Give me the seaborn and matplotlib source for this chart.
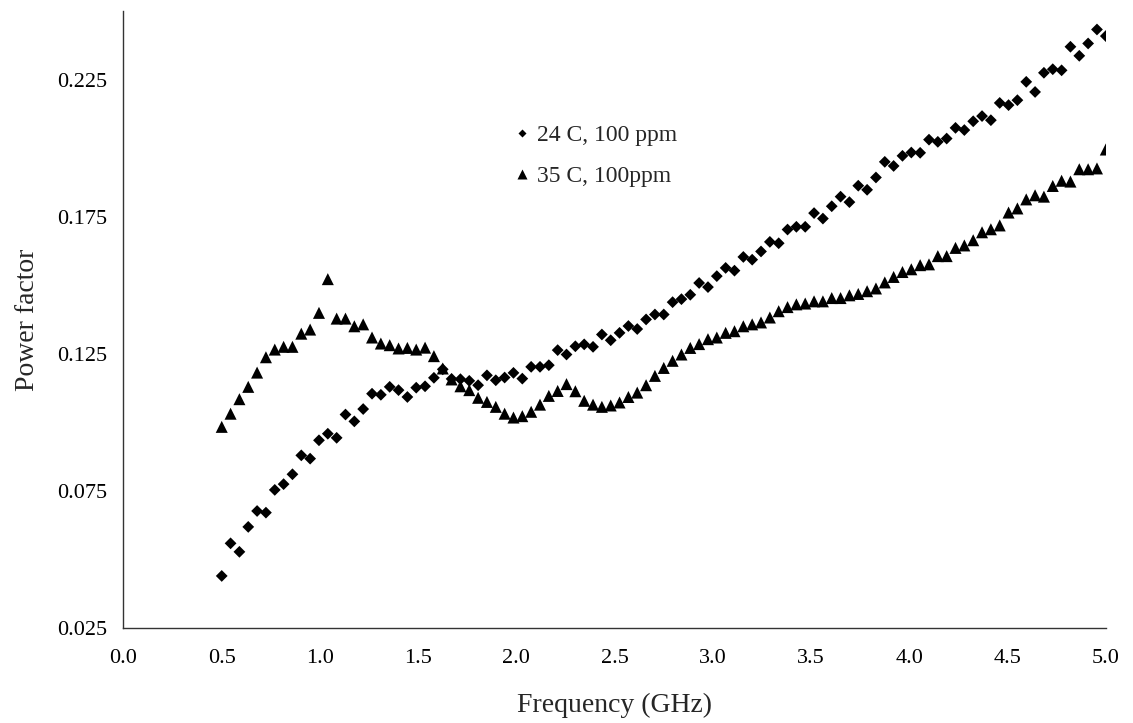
import numpy as np
import pandas as pd
import matplotlib
matplotlib.use("Agg")
import matplotlib.pyplot as plt
import seaborn as sns

# Frequency (GHz): 101 samples from 0.5 to 5.0
freq = np.round(np.linspace(0.5, 5.0, 101), 3)

pf_24c = [
    0.0441, 0.0560, 0.0529, 0.0620, 0.0678, 0.0672, 0.0755, 0.0776, 0.0812, 0.0881,
    0.0869, 0.0936, 0.0960, 0.0945, 0.1030, 0.1005, 0.1050, 0.1106, 0.1102, 0.1131,
    0.1119, 0.1094, 0.1128, 0.1133, 0.1164, 0.1195, 0.1160, 0.1159, 0.1153, 0.1137,
    0.1173, 0.1155, 0.1165, 0.1182, 0.1161, 0.1204, 0.1204, 0.1210, 0.1265, 0.1249,
    0.1279, 0.1286, 0.1277, 0.1322, 0.1301, 0.1328, 0.1353, 0.1342, 0.1377, 0.1395,
    0.1395, 0.1440, 0.1451, 0.1467, 0.1510, 0.1495, 0.1535, 0.1565, 0.1555, 0.1605,
    0.1595, 0.1625, 0.1660, 0.1655, 0.1705, 0.1715, 0.1715, 0.1765, 0.1745, 0.1790,
    0.1825, 0.1805, 0.1865, 0.1850, 0.1895, 0.1952, 0.1937, 0.1974, 0.1986, 0.1985,
    0.2033, 0.2025, 0.2037, 0.2076, 0.2068, 0.2100, 0.2119, 0.2104, 0.2167, 0.2159,
    0.2177, 0.2244, 0.2207, 0.2277, 0.2290, 0.2286, 0.2372, 0.2339, 0.2384, 0.2435,
    0.2411,
]

pf_35c = [
    0.0985, 0.1033, 0.1086, 0.1131, 0.1183, 0.1239, 0.1267, 0.1277, 0.1277, 0.1325,
    0.1340, 0.1401, 0.1524, 0.1380, 0.1380, 0.1352, 0.1359, 0.1311, 0.1289, 0.1283,
    0.1271, 0.1273, 0.1267, 0.1274, 0.1243, 0.1198, 0.1158, 0.1133, 0.1119, 0.1091,
    0.1076, 0.1058, 0.1033, 0.1019, 0.1024, 0.1040, 0.1066, 0.1098, 0.1116, 0.1141,
    0.1115, 0.1080, 0.1066, 0.1058, 0.1063, 0.1074, 0.1094, 0.1110, 0.1137, 0.1171,
    0.1200, 0.1226, 0.1249, 0.1273, 0.1287, 0.1305, 0.1311, 0.1328, 0.1334, 0.1352,
    0.1359, 0.1366, 0.1384, 0.1407, 0.1422, 0.1432, 0.1435, 0.1443, 0.1443, 0.1455,
    0.1455, 0.1465, 0.1470, 0.1480, 0.1490, 0.1512, 0.1532, 0.1550, 0.1560, 0.1575,
    0.1578, 0.1608, 0.1608, 0.1638, 0.1647, 0.1666, 0.1695, 0.1706, 0.1720, 0.1767,
    0.1782, 0.1815, 0.1830, 0.1825, 0.1864, 0.1883, 0.1880, 0.1925, 0.1925, 0.1928,
    0.1997,
]

series_names = ["24 C, 100 ppm", "35 C, 100ppm"]
x_ticks = [0.0, 0.5, 1.0, 1.5, 2.0, 2.5, 3.0, 3.5, 4.0, 4.5, 5.0]
y_ticks = [0.025, 0.075, 0.125, 0.175, 0.225]

df = pd.DataFrame({
    "Frequency (GHz)": np.concatenate([freq, freq]),
    "Power factor": np.concatenate([pf_24c, pf_35c]),
    "series": [series_names[0]] * len(freq) + [series_names[1]] * len(freq),
})

sns.set_theme(style="white")
plt.rcParams["font.family"] = ["Liberation Serif", "DejaVu Serif"]

fig = plt.figure(figsize=(11.33, 7.23), dpi=100)
ax = fig.add_axes([0.109, 0.131, 0.867, 0.854])

sns.scatterplot(
    data=df, x="Frequency (GHz)", y="Power factor",
    style="series", markers={series_names[0]: "D", series_names[1]: "^"},
    size="series", sizes={series_names[0]: 36, series_names[1]: 75},
    color="black", edgecolor="none", ax=ax, legend=True,
)

ax.set_xlim(0.0, 5.0)
ax.set_ylim(0.025, 0.2503)
ax.set_xticks(x_ticks)
ax.set_xticklabels([f"{t:.1f}" for t in x_ticks])
ax.set_yticks(y_ticks)
ax.set_yticklabels([f"{t:.3f}" for t in y_ticks])
ax.tick_params(axis="both", direction="out", length=6, width=1, color="#333333",
               labelsize=16, labelcolor="black", pad=6)
ax.tick_params(axis="x", pad=9)
for side in ["top", "right"]:
    ax.spines[side].set_visible(False)
for side in ["left", "bottom"]:
    ax.spines[side].set_color("#333333")
    ax.spines[side].set_linewidth(1)

ax.set_xlabel("Frequency (GHz)", fontsize=20, labelpad=18)
ax.set_ylabel("Power factor", fontsize=20, labelpad=12)

handles, labels = ax.get_legend_handles_labels()
leg = ax.legend(handles, labels, loc="center left", bbox_to_anchor=(0.398, 0.765),
                frameon=False, fontsize=17, markerscale=0.75, handlelength=0.6,
                handletextpad=0.35, labelspacing=0.8, borderaxespad=0, borderpad=0)

fig.savefig("out.png", dpi=100)
